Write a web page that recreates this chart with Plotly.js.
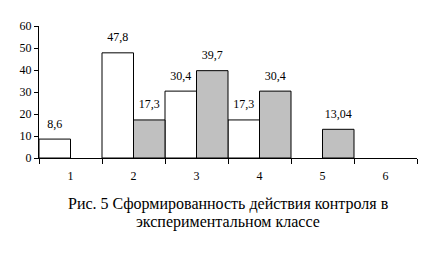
<!DOCTYPE html>
<html><head><meta charset="utf-8">
<script src="https://cdn.plot.ly/plotly-3.0.1.min.js"></script>
<style>html,body{margin:0;padding:0;background:#fff;}</style>
</head><body>
<div id="chart" style="width:432px;height:254px;"></div>
<script>
const categories = ["1", "2", "3", "4", "5", "6"];
const seriesA = [8.6, 47.8, 30.4, 17.3, null, null];
const seriesB = [null, 17.3, 39.7, 30.4, 13.04, null];
const yTicks = [0, 10, 20, 30, 40, 50, 60];
const captionLines = ["Рис. 5 Сформированность действия контроля в", "экспериментальном классе"];

const fmt = v => v == null ? "" : String(v).replace(".", ",");
const FAM = "Liberation Serif";
const mk = (size) => ({family: FAM, size: size, color: "#000"});

const barTrace = (vals, fill, grp) => ({
  type: "bar", x: categories, y: vals, offsetgroup: grp, alignmentgroup: "a",
  marker: {color: fill, line: {color: "#000", width: 1}}, hoverinfo: "none"
});
const labelTrace = (vals, grp) => ({
  type: "scatter", mode: "markers+text", x: categories, y: vals, offsetgroup: grp, alignmentgroup: "a",
  text: vals.map(fmt), textposition: "top center", textfont: mk(12), cliponaxis: false,
  marker: {size: 12, opacity: 0}, hoverinfo: "none"
});

const traces = [
  barTrace(seriesA, "#ffffff", "A"),
  barTrace(seriesB, "#c0c0c0", "B"),
  labelTrace(seriesA, "A"),
  labelTrace(seriesB, "B")
];

const captionY = [-0.35, -0.485];

const layout = {
  width: 432, height: 254,
  margin: {l: 39, r: 15, t: 26, b: 96},
  paper_bgcolor: "#fff", plot_bgcolor: "#fff",
  showlegend: false,
  barmode: "group", bargap: 0, bargroupgap: 0,
  scattermode: "group", scattergap: 0,
  font: mk(12),
  xaxis: {type: "category", showgrid: false, zeroline: false, showline: true, linecolor: "#000", linewidth: 1,
          ticks: "outside", tickson: "boundaries", ticklen: 5, tickcolor: "#000",
          ticklabelstandoff: 7, tickfont: mk(12), range: [-0.5, 5.5]},
  yaxis: {range: [0, 60], tickvals: yTicks, showgrid: false, zeroline: false, showline: true,
          linecolor: "#000", linewidth: 1, ticks: "outside", ticklen: 4, tickcolor: "#000",
          tickfont: mk(12)},
  annotations: captionLines.map((t, i) => ({text: t, xref: "paper", yref: "paper", x: 0.5, y: captionY[i],
                 xanchor: "center", yanchor: "middle", showarrow: false, font: mk(16)}))
};

Plotly.newPlot("chart", traces, layout, {staticPlot: true, displayModeBar: false});
</script>
</body></html>
